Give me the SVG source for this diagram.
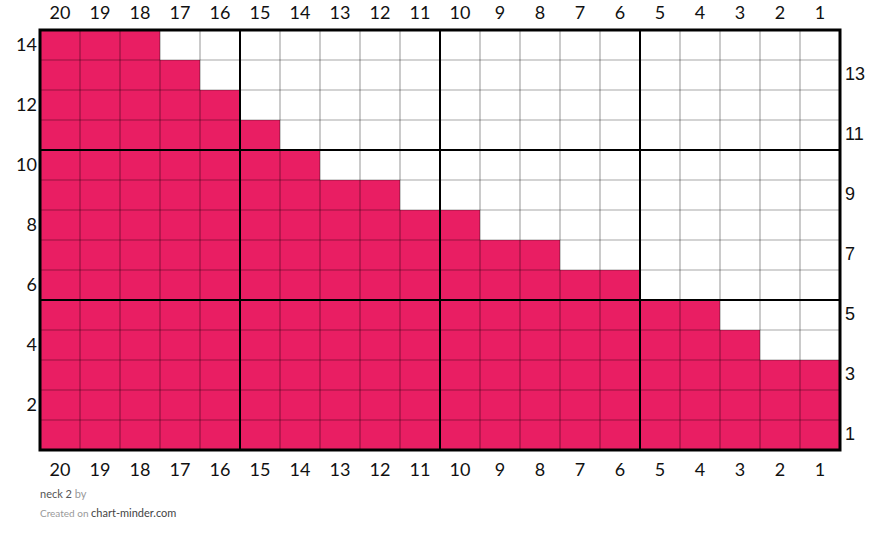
<svg xmlns="http://www.w3.org/2000/svg" width="880" height="543" viewBox="0 0 880 543">
<style>
.f{fill:#E91E63}
.g{stroke:#000;stroke-opacity:0.35;stroke-width:1.2;fill:none}
.t{stroke:#000;stroke-width:2;fill:none}
.n{font-family:Lato,"Liberation Sans",sans-serif;font-size:18px;fill:#111;text-anchor:middle}
.r{font-family:"Liberation Sans",Arial,sans-serif;font-size:18px;fill:#111}
.l{font-family:Lato,"Liberation Sans",sans-serif;font-size:18px;fill:#111;text-anchor:end}
.ft{font-family:Lato,"Liberation Sans",sans-serif;font-size:11px}
</style>
<rect x="0" y="0" width="880" height="543" fill="#fff"/>
<g id="fills">
<rect class="f" x="40" y="30" width="120" height="30"/>
<rect class="f" x="40" y="60" width="160" height="30"/>
<rect class="f" x="40" y="90" width="200" height="30"/>
<rect class="f" x="40" y="120" width="240" height="30"/>
<rect class="f" x="40" y="150" width="280" height="30"/>
<rect class="f" x="40" y="180" width="360" height="30"/>
<rect class="f" x="40" y="210" width="440" height="30"/>
<rect class="f" x="40" y="240" width="520" height="30"/>
<rect class="f" x="40" y="270" width="600" height="30"/>
<rect class="f" x="40" y="300" width="680" height="30"/>
<rect class="f" x="40" y="330" width="720" height="30"/>
<rect class="f" x="40" y="360" width="800" height="90"/>
</g>
<g id="grid">
<path class="g" d="M80 30V450M120 30V450M160 30V450M200 30V450M280 30V450M320 30V450M360 30V450M400 30V450M480 30V450M520 30V450M560 30V450M600 30V450M680 30V450M720 30V450M760 30V450M800 30V450"/>
<path class="g" d="M40 60H840M40 90H840M40 120H840M40 180H840M40 210H840M40 240H840M40 270H840M40 330H840M40 360H840M40 390H840M40 420H840"/>
<path class="t" d="M240 30V450M440 30V450M640 30V450M40 150H840M40 300H840"/>
<rect x="40" y="30" width="800" height="420" fill="none" stroke="#000" stroke-width="3"/>
</g>
<g id="top-labels">
<text class="n" x="60" y="19">20</text><text class="n" x="100" y="19">19</text><text class="n" x="140" y="19">18</text><text class="n" x="180" y="19">17</text><text class="n" x="220" y="19">16</text><text class="n" x="260" y="19">15</text><text class="n" x="300" y="19">14</text><text class="n" x="340" y="19">13</text><text class="n" x="380" y="19">12</text><text class="n" x="420" y="19">11</text><text class="n" x="460" y="19">10</text><text class="n" x="500" y="19">9</text><text class="n" x="540" y="19">8</text><text class="n" x="580" y="19">7</text><text class="n" x="620" y="19">6</text><text class="n" x="660" y="19">5</text><text class="n" x="700" y="19">4</text><text class="n" x="740" y="19">3</text><text class="n" x="780" y="19">2</text><text class="n" x="820" y="19">1</text>
</g>
<g id="bottom-labels">
<text class="n" x="60" y="476">20</text><text class="n" x="100" y="476">19</text><text class="n" x="140" y="476">18</text><text class="n" x="180" y="476">17</text><text class="n" x="220" y="476">16</text><text class="n" x="260" y="476">15</text><text class="n" x="300" y="476">14</text><text class="n" x="340" y="476">13</text><text class="n" x="380" y="476">12</text><text class="n" x="420" y="476">11</text><text class="n" x="460" y="476">10</text><text class="n" x="500" y="476">9</text><text class="n" x="540" y="476">8</text><text class="n" x="580" y="476">7</text><text class="n" x="620" y="476">6</text><text class="n" x="660" y="476">5</text><text class="n" x="700" y="476">4</text><text class="n" x="740" y="476">3</text><text class="n" x="780" y="476">2</text><text class="n" x="820" y="476">1</text>
</g>
<g id="left-labels">
<text class="l" x="37" y="51">14</text><text class="l" x="37" y="111">12</text><text class="l" x="37" y="171">10</text><text class="l" x="37" y="231">8</text><text class="l" x="37" y="291">6</text><text class="l" x="37" y="351">4</text><text class="l" x="37" y="411">2</text>
</g>
<g id="right-labels">
<text class="r" x="845" y="80">13</text><text class="r" x="845" y="140">11</text><text class="r" x="845" y="200">9</text><text class="r" x="845" y="260">7</text><text class="r" x="845" y="320">5</text><text class="r" x="845" y="380">3</text><text class="r" x="845" y="440">1</text>
</g>
<g id="footer">
<text class="ft" x="40" y="498"><tspan fill="#555">neck 2</tspan><tspan fill="#999"> by</tspan></text>
<text class="ft" x="40" y="517"><tspan fill="#999" font-size="10px">Created on </tspan><tspan fill="#444" font-size="11px">chart-minder.com</tspan></text>
</g>
</svg>
